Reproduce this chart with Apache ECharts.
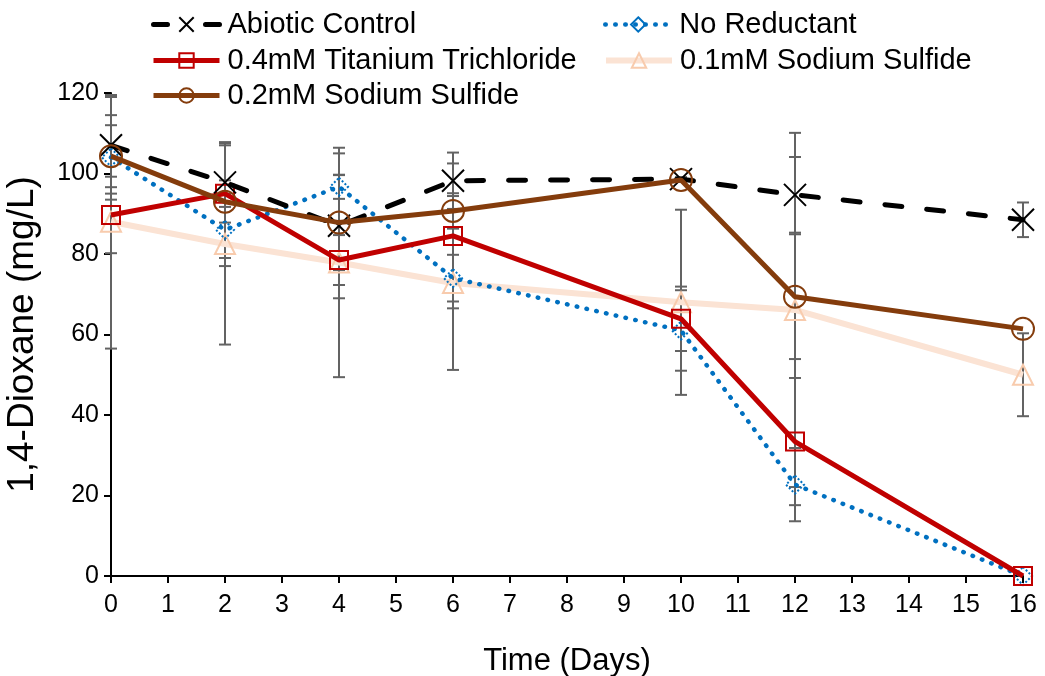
<!DOCTYPE html>
<html>
<head>
<meta charset="utf-8">
<script src="https://cdn.jsdelivr.net/npm/echarts@6/dist/echarts.min.js"></script>
<style>html,body{margin:0;padding:0;background:#fff}#c{width:1045px;height:676px}</style>
</head>
<body>
<div id="c"></div>
<script>
var days = [0, 2, 4, 6, 10, 12, 16];
var abiotic = [107, 97.8, 87, 98.2, 98.6, 94.7, 88.5];
var abioticErr = [12, 10, 18, 7, 0.5, 9.4, 4.3];
var noReductant = [104, 86, 96.7, 74, 61, 22.7, 0];
var noReductantErr = [10.5, 9, 3, 5.8, 10, 9.1, 0];
var titanium = [89.7, 95, 78.5, 84.5, 63.9, 33.4, 0];
var titaniumErr = [9.5, 3.3, 6.2, 18, 8, 15.8, 0];
var sulfide01 = [88, 82.5, 77.9, 72.8, 68, 66.1, 50];
var sulfide01Err = [31.5, 25, 28.5, 21.6, 23, 44, 10.3];
var sulfide02 = [104.3, 93, 87.8, 90.7, 98.4, 69.4, 61.4];
var sulfide02Err = [7.7, 14, 11.8, 4.4, 0.5, 15.5, 0];
var seriesNames = ['Abiotic Control', 'No Reductant', '0.4mM Titanium Trichloride', '0.1mM Sodium Sulfide', '0.2mM Sodium Sulfide'];
var yTicks = [0, 20, 40, 60, 80, 100, 120];

var FONT = '"Liberation Sans", Arial, sans-serif';
function pts(vals) { return days.map(function (d, i) { return [d, vals[i]]; }); }
function errPts(vals, errs) { return days.map(function (d, i) { return [d, vals[i], errs[i]]; }); }

function errSeries(vals, errs) {
  return {
    type: 'custom',
    z: 1,
    silent: true,
    clip: false,
    encode: { x: 0, y: 1 },
    data: errPts(vals, errs),
    renderItem: function (params, api) {
      var x = api.value(0), y = api.value(1), e = api.value(2);
      if (!e) return null;
      var top = api.coord([x, Math.min(y + e, 120)]);
      var bot = api.coord([x, Math.max(y - e, 0)]);
      var hw = 6;
      var st = { stroke: '#636363', lineWidth: 2 };
      var children = [
        { type: 'line', shape: { x1: top[0], y1: top[1], x2: bot[0], y2: bot[1] }, style: st }
      ];
      if (y + e <= 120) children.push({ type: 'line', shape: { x1: top[0] - hw, y1: top[1], x2: top[0] + hw, y2: top[1] }, style: st });
      if (y - e >= 0) children.push({ type: 'line', shape: { x1: bot[0] - hw, y1: bot[1], x2: bot[0] + hw, y2: bot[1] }, style: st });
      return { type: 'group', children: children };
    }
  };
}

var lineDefs = [
  { name: seriesNames[0], data: abiotic, color: '#000000', width: 5, type: [17, 25], ltype: [14, 38], cap: 'round',
    symbol: 'path://M0,0L10,10M10,0L0,10', size: 22, border: '#000000', bw: 2, btype: 'solid' },
  { name: seriesNames[1], data: noReductant, color: '#0070C0', width: 4.5, type: [0.5, 9.5], ltype: [0.5, 9.5], cap: 'round',
    symbol: 'diamond', size: 18, border: '#0070C0', bw: 2, btype: 'dotted' },
  { name: seriesNames[2], data: titanium, color: '#C00000', width: 5, type: 'solid', ltype: 'solid', cap: 'butt',
    symbol: 'rect', size: 18, border: '#C00000', bw: 2, btype: 'solid' },
  { name: seriesNames[3], data: sulfide01, color: '#FBE3D4', width: 6, type: 'solid', ltype: 'solid', cap: 'butt',
    symbol: 'triangle', size: 20, border: '#F8CBAD', bw: 2, btype: 'solid' },
  { name: seriesNames[4], data: sulfide02, color: '#843C0C', width: 5, type: 'solid', ltype: 'solid', cap: 'butt',
    symbol: 'circle', size: 22, border: '#843C0C', bw: 2, btype: 'solid' }
];

var series = [
  errSeries(abiotic, abioticErr),
  errSeries(noReductant, noReductantErr),
  errSeries(titanium, titaniumErr),
  errSeries(sulfide01, sulfide01Err),
  errSeries(sulfide02, sulfide02Err)
];
var zOrder = [5, 3, 4, 2, 6];
lineDefs.forEach(function (d, i) {
  series.push({
    type: 'line',
    name: d.name,
    z: zOrder[i],
    clip: false,
    data: pts(d.data),
    symbol: d.symbol,
    symbolSize: d.size,
    showAllSymbol: true,
    lineStyle: { color: d.color, width: d.width, type: d.type, cap: d.cap },
    itemStyle: { color: 'rgba(0,0,0,0)', borderColor: d.border, borderWidth: d.bw, borderType: d.btype },
    emphasis: { disabled: true },
    animation: false
  });
});

function legendAt(i, left, top) {
  var d = lineDefs[i];
  return {
    data: [d.name], left: left, top: top, orient: 'horizontal', padding: 0,
    itemWidth: 66, itemHeight: 18, selectedMode: false,
    lineStyle: { width: d.width, type: d.ltype, cap: d.cap, color: d.color },
    textStyle: { fontFamily: FONT, fontSize: 29, color: '#000', padding: [0, 0, 0, 3] }
  };
}

var option = {
  animation: false,
  backgroundColor: '#fff',
  legend: [
    legendAt(0, 151, 10),
    legendAt(1, 603, 10),
    legendAt(2, 151, 46),
    legendAt(3, 603, 46),
    legendAt(4, 151, 81)
  ],
  grid: { left: 111, right: 22, top: 93, bottom: 100, containLabel: false, outerBoundsMode: 'none' },
  xAxis: {
    type: 'value', min: 0, max: 16, interval: 1,
    name: 'Time (Days)', nameLocation: 'middle', nameGap: 70,
    nameTextStyle: { fontFamily: FONT, fontSize: 31, color: '#000' },
    axisLine: { lineStyle: { color: '#000', width: 2 } },
    axisTick: { show: true, inside: false, length: 7, lineStyle: { color: '#000', width: 2 } },
    axisLabel: { fontFamily: FONT, fontSize: 25, color: '#000', margin: 17 },
    splitLine: { show: false }
  },
  yAxis: {
    type: 'value', min: yTicks[0], max: yTicks[yTicks.length - 1], interval: 20,
    name: '1,4-Dioxane (mg/L)', nameLocation: 'middle', nameGap: 70, nameRotate: 90,
    nameTextStyle: { fontFamily: FONT, fontSize: 37, color: '#000' },
    axisLine: { show: true, lineStyle: { color: '#000', width: 2 } },
    axisTick: { show: true, inside: false, length: 7, lineStyle: { color: '#000', width: 2 } },
    axisLabel: { fontFamily: FONT, fontSize: 25, color: '#000', margin: 12 },
    splitLine: { show: false }
  },
  series: series
};

var chart = echarts.init(document.getElementById('c'), null, { renderer: 'canvas' });
chart.setOption(option);
</script>
</body>
</html>
